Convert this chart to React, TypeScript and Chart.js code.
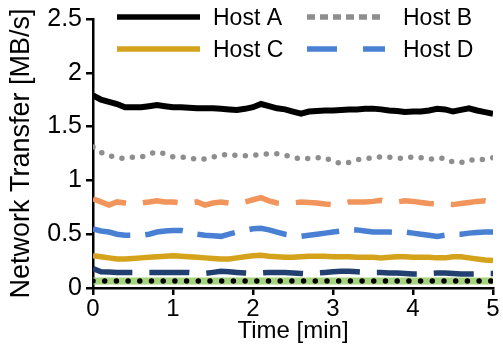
import { useEffect, useRef } from "react";
import { Chart, registerables } from "chart.js";
Chart.register(...registerables);

const times = [0, 0.1, 0.2, 0.3, 0.4, 0.5, 0.6, 0.7, 0.8, 0.9, 1, 1.1, 1.2, 1.3, 1.4, 1.5, 1.6, 1.7, 1.8, 1.9, 2, 2.1, 2.2, 2.3, 2.4, 2.5, 2.6, 2.7, 2.8, 2.9, 3, 3.1, 3.2, 3.3, 3.4, 3.5, 3.6, 3.7, 3.8, 3.9, 4, 4.1, 4.2, 4.3, 4.4, 4.5, 4.6, 4.7, 4.8, 4.9, 5];

const hostA = [1.79, 1.75, 1.73, 1.71, 1.68, 1.68, 1.68, 1.69, 1.7, 1.69, 1.68, 1.68, 1.675, 1.67, 1.67, 1.67, 1.665, 1.66, 1.655, 1.665, 1.68, 1.71, 1.69, 1.67, 1.66, 1.64, 1.62, 1.64, 1.645, 1.65, 1.65, 1.655, 1.66, 1.66, 1.665, 1.667, 1.66, 1.65, 1.645, 1.636, 1.64, 1.64, 1.65, 1.665, 1.66, 1.64, 1.655, 1.67, 1.65, 1.635, 1.62];
const hostB = [1.31, 1.26, 1.23, 1.21, 1.205, 1.216, 1.216, 1.245, 1.265, 1.247, 1.22, 1.216, 1.21, 1.195, 1.2, 1.217, 1.235, 1.245, 1.23, 1.23, 1.235, 1.24, 1.247, 1.247, 1.235, 1.215, 1.2, 1.205, 1.21, 1.21, 1.176, 1.158, 1.168, 1.19, 1.206, 1.206, 1.22, 1.215, 1.206, 1.206, 1.22, 1.21, 1.196, 1.206, 1.206, 1.17, 1.165, 1.192, 1.185, 1.2, 1.21];
const hostE = [0.83, 0.8, 0.77, 0.8, 0.79, 0.78, 0.79, 0.8, 0.81, 0.8, 0.8, 0.79, 0.79, 0.8, 0.77, 0.79, 0.8, 0.79, 0.79, 0.8, 0.82, 0.84, 0.81, 0.79, 0.785, 0.79, 0.8, 0.795, 0.79, 0.78, 0.775, 0.78, 0.8, 0.8, 0.8, 0.805, 0.815, 0.8, 0.8, 0.81, 0.805, 0.795, 0.785, 0.78, 0.78, 0.775, 0.785, 0.795, 0.805, 0.81, 0.8];
const hostD = [0.55, 0.53, 0.52, 0.5, 0.49, 0.49, 0.49, 0.5, 0.52, 0.53, 0.535, 0.535, 0.52, 0.5, 0.49, 0.485, 0.48, 0.5, 0.52, 0.535, 0.55, 0.555, 0.54, 0.52, 0.5, 0.49, 0.48, 0.49, 0.5, 0.51, 0.52, 0.53, 0.54, 0.54, 0.53, 0.52, 0.52, 0.52, 0.515, 0.52, 0.51, 0.5, 0.49, 0.48, 0.49, 0.5, 0.5, 0.51, 0.515, 0.52, 0.52];
const hostC = [0.3, 0.29, 0.28, 0.27, 0.27, 0.275, 0.28, 0.285, 0.29, 0.295, 0.3, 0.295, 0.29, 0.285, 0.28, 0.275, 0.27, 0.27, 0.28, 0.29, 0.3, 0.305, 0.295, 0.29, 0.285, 0.285, 0.29, 0.295, 0.295, 0.295, 0.29, 0.29, 0.29, 0.285, 0.285, 0.285, 0.28, 0.285, 0.29, 0.29, 0.285, 0.285, 0.285, 0.28, 0.28, 0.29, 0.29, 0.28, 0.27, 0.26, 0.255];
const hostF = [0.18, 0.15, 0.148, 0.145, 0.145, 0.145, 0.145, 0.145, 0.145, 0.145, 0.145, 0.145, 0.145, 0.14, 0.135, 0.145, 0.155, 0.15, 0.145, 0.14, 0.135, 0.14, 0.145, 0.145, 0.145, 0.14, 0.135, 0.13, 0.14, 0.145, 0.15, 0.155, 0.155, 0.15, 0.145, 0.145, 0.145, 0.14, 0.14, 0.135, 0.13, 0.13, 0.135, 0.14, 0.14, 0.135, 0.13, 0.13, 0.13, 0.135, 0.135];
const hostG = [0.066, 0.065, 0.065, 0.064, 0.064, 0.065, 0.065, 0.064, 0.064, 0.065, 0.065, 0.064, 0.064, 0.064, 0.065, 0.065, 0.064, 0.064, 0.065, 0.065, 0.064, 0.064, 0.064, 0.065, 0.065, 0.064, 0.064, 0.065, 0.065, 0.064, 0.064, 0.064, 0.065, 0.065, 0.064, 0.064, 0.065, 0.065, 0.064, 0.064, 0.064, 0.065, 0.065, 0.064, 0.064, 0.065, 0.065, 0.064, 0.064, 0.064, 0.065];

const xTicks = [0, 1, 2, 3, 4, 5];
const yTicks = [0, 0.5, 1, 1.5, 2, 2.5];
const legendLabels = ["Host A", "Host B", "Host C", "Host D"];

const FONT = "'Liberation Sans', Arial, Helvetica, sans-serif";

const pts = (vals: number[]) => times.map((t, i) => ({ x: t, y: vals[i] }));

const legendPlugin = {
  id: "customLegend",
  afterDraw(chart: any) {
    const ctx = chart.ctx as CanvasRenderingContext2D;
    const items = [
      { ds: 0, col: 0, row: 0, dash: [] as number[] },
      { ds: 1, col: 1, row: 0, dash: [8, 5] },
      { ds: 4, col: 0, row: 1, dash: [] as number[] },
      { ds: 3, col: 1, row: 1, dash: [30, 26] },
    ];
    const colX = [117, 307];
    const rowY = [17, 49];
    const lineLen = [83, 78];
    const gap = [13, 18];
    ctx.save();
    items.forEach((it, i) => {
      const d = chart.data.datasets[it.ds];
      const x0 = colX[it.col];
      const y = rowY[it.row];
      ctx.beginPath();
      ctx.setLineDash(it.dash);
      ctx.lineCap = "butt";
      ctx.strokeStyle = d.borderColor;
      ctx.lineWidth = 5.5;
      ctx.moveTo(x0, y);
      ctx.lineTo(x0 + lineLen[it.col], y);
      ctx.stroke();
      ctx.setLineDash([]);
      ctx.fillStyle = "#000";
      ctx.font = `23px ${FONT}`;
      ctx.textBaseline = "middle";
      ctx.textAlign = "left";
      ctx.fillText(legendLabels[i], x0 + lineLen[it.col] + gap[it.col], y + 2);
    });
    ctx.restore();
  },
};

export default function App() {
  const ref = useRef<HTMLCanvasElement | null>(null);
  useEffect(() => {
    document.body.style.margin = "0";
    if (!ref.current) return;
    const chart = new Chart(ref.current, {
      type: "line",
      data: {
        datasets: [
          { label: "Host A", data: pts(hostA), borderColor: "#000000", borderWidth: 6 },
          { label: "Host B", data: pts(hostB), borderColor: "#8e8e8e", borderWidth: 5.5, borderDash: [0, 10.5], borderCapStyle: "round" },
          { label: "", data: pts(hostE), borderColor: "#f1955c", borderWidth: 5.5, borderDash: [35, 17] },
          { label: "Host D", data: pts(hostD), borderColor: "#4a80d3", borderWidth: 5.5, borderDash: [38, 15] },
          { label: "Host C", data: pts(hostC), borderColor: "#d5a21c", borderWidth: 5.5 },
          { label: "", data: pts(hostF), borderColor: "#22406f", borderWidth: 5.5, borderDash: [40, 17] },
          { label: "", data: pts(hostG), borderColor: "#000000", borderWidth: 5.5, borderDash: [0, 11.7], borderCapStyle: "round" },
          { label: "", data: pts(hostG), borderColor: "#a6d47e", borderWidth: 7 },
        ] as any,
      },
      options: {
        animation: false,
        responsive: true,
        maintainAspectRatio: false,
        elements: { point: { radius: 0, hoverRadius: 0 }, line: { tension: 0 } },
        layout: { padding: { top: 17, right: 10, left: 0, bottom: 0 } },
        plugins: { legend: { display: false }, tooltip: { enabled: false } },
        scales: {
          x: {
            type: "linear",
            min: 0,
            max: 5,
            afterBuildTicks: (s: any) => { s.ticks = xTicks.map((v) => ({ value: v })); },
            afterFit: (s: any) => { s.height = 58; },
            ticks: { color: "#000", font: { family: FONT, size: 24 }, padding: 0, maxRotation: 0, callback: (v: any) => String(v) },
            grid: { drawOnChartArea: false, drawTicks: true, tickLength: 7, color: "#000", lineWidth: 2.5 },
            border: { display: true, color: "#000", width: 2.5 },
            title: { display: true, text: "Time [min]", color: "#000", font: { family: FONT, size: 24 }, padding: { top: 0, bottom: 0 } },
          },
          y: {
            type: "linear",
            min: 0,
            max: 2.5,
            afterBuildTicks: (s: any) => { s.ticks = yTicks.map((v) => ({ value: v })); },
            afterFit: (s: any) => { s.width = 93; },
            ticks: { color: "#000", font: { family: FONT, size: 25 }, padding: 4, callback: (v: any) => String(v) },
            grid: { drawOnChartArea: false, drawTicks: true, tickLength: 7, color: "#000", lineWidth: 2.5 },
            border: { display: true, color: "#000", width: 2.5 },
            title: { display: true, text: "Network Transfer [MB/s]", color: "#000", font: { family: FONT, size: 27 }, padding: { top: 5, bottom: 0 } },
          },
        },
      } as any,
      plugins: [legendPlugin],
    });
    return () => chart.destroy();
  }, []);
  return (
    <div style={{ width: 503, height: 346, position: "relative" }}>
      <canvas ref={ref} />
    </div>
  );
}
